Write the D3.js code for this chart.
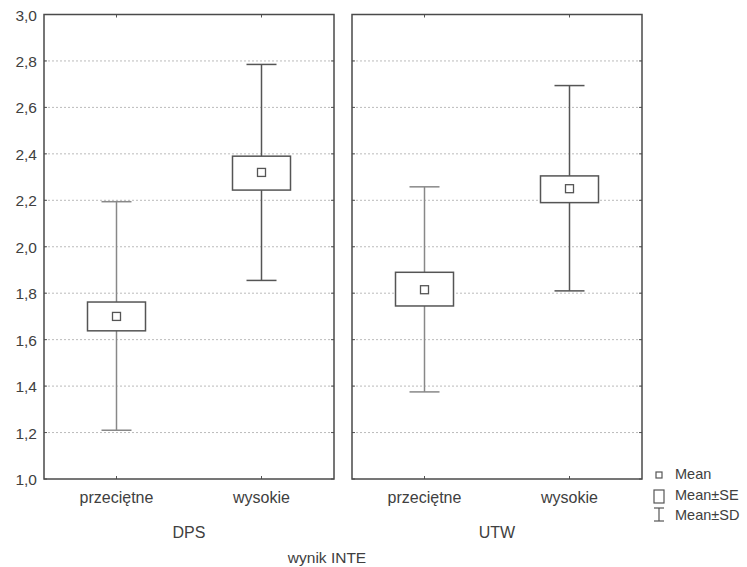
<!DOCTYPE html>
<html>
<head>
<meta charset="utf-8">
<script src="https://d3js.org/d3.v7.min.js"></script>
<style>
body{margin:0;background:#fff;}
text{font-family:"Liberation Sans",Arial,sans-serif;fill:#404040;}
</style>
</head>
<body>
<div id="chart"></div>
<script>
// dane
var panels = ["DPS", "UTW"];
var categories = ["przeciętne", "wysokie"];
var means  = [[1.70, 2.32], [1.815, 2.25]];
var seLow  = [[1.638, 2.244], [1.745, 2.19]];
var seHigh = [[1.762, 2.39], [1.89, 2.305]];
var sdLow  = [[1.21, 1.855], [1.375, 1.81]];
var sdHigh = [[2.194, 2.785], [2.258, 2.694]];
var yTicks = [1.0, 1.2, 1.4, 1.6, 1.8, 2.0, 2.2, 2.4, 2.6, 2.8, 3.0];
var legendLabels = ["Mean", "Mean±SE", "Mean±SD"];

var W = 747, H = 567;
var yTop = 14.5, yBottom = 479;
var panelX = [44, 352], panelW = 290;

var svg = d3.select("#chart").append("svg")
    .attr("width", W).attr("height", H);

var y = d3.scaleLinear().domain([1, 3]).range([yBottom, yTop]);
var fmt = function(d){ return d3.format(".1f")(d).replace(".", ","); };

// etykiety osi Y
svg.append("g")
    .selectAll("text").data(yTicks).enter().append("text")
    .attr("x", 37).attr("y", function(d){ return y(d) + 6; })
    .attr("text-anchor", "end")
    .style("font-size", "15.5px")
    .text(fmt);

panels.forEach(function(p, pi){
    var x = d3.scalePoint().domain(categories)
        .range([panelX[pi], panelX[pi] + panelW]).padding(0.5);
    var g = svg.append("g");

    // siatka
    g.selectAll(".grid").data(yTicks.slice(1, -1)).enter().append("line")
        .attr("x1", panelX[pi]).attr("x2", panelX[pi] + panelW)
        .attr("y1", function(d){ return y(d); }).attr("y2", function(d){ return y(d); })
        .attr("stroke", "#bbb").attr("stroke-width", 1)
        .attr("stroke-dasharray", "2,2");

    // ticki na ramce
    g.selectAll(".tl").data(yTicks).enter().append("line")
        .attr("x1", panelX[pi]).attr("x2", panelX[pi] + 3)
        .attr("y1", function(d){ return y(d); }).attr("y2", function(d){ return y(d); })
        .attr("stroke", "#555");
    g.selectAll(".tr").data(yTicks).enter().append("line")
        .attr("x1", panelX[pi] + panelW - 3).attr("x2", panelX[pi] + panelW)
        .attr("y1", function(d){ return y(d); }).attr("y2", function(d){ return y(d); })
        .attr("stroke", "#555");
    g.selectAll(".tb").data(categories).enter().append("line")
        .attr("x1", function(d){ return x(d); }).attr("x2", function(d){ return x(d); })
        .attr("y1", yBottom - 3).attr("y2", yBottom)
        .attr("stroke", "#555");
    g.selectAll(".tt").data(categories).enter().append("line")
        .attr("x1", function(d){ return x(d); }).attr("x2", function(d){ return x(d); })
        .attr("y1", yTop).attr("y2", yTop + 3)
        .attr("stroke", "#555");

    // ramka
    g.append("rect")
        .attr("x", panelX[pi]).attr("y", yTop)
        .attr("width", panelW).attr("height", yBottom - yTop)
        .attr("fill", "none").attr("stroke", "#4a4a4a").attr("stroke-width", 1.5);

    categories.forEach(function(c, ci){
        var cx = x(c);
        var col = (ci === 0) ? "#888" : "#555";
        // whisker SD
        g.append("line").attr("x1", cx).attr("x2", cx)
            .attr("y1", y(sdHigh[pi][ci])).attr("y2", y(sdLow[pi][ci]))
            .attr("stroke", col).attr("stroke-width", 1.5);
        [sdHigh[pi][ci], sdLow[pi][ci]].forEach(function(v){
            g.append("line").attr("x1", cx - 15).attr("x2", cx + 15)
                .attr("y1", y(v)).attr("y2", y(v))
                .attr("stroke", col).attr("stroke-width", 1.5);
        });
        // SE box
        g.append("rect")
            .attr("x", cx - 29).attr("width", 58)
            .attr("y", y(seHigh[pi][ci]))
            .attr("height", y(seLow[pi][ci]) - y(seHigh[pi][ci]))
            .attr("fill", "#fff").attr("stroke", "#555").attr("stroke-width", 1.5);
        // mean
        g.append("rect")
            .attr("x", cx - 4).attr("y", y(means[pi][ci]) - 4)
            .attr("width", 8).attr("height", 8)
            .attr("fill", "#fff").attr("stroke", "#555").attr("stroke-width", 1.3);
        // etykieta kategorii
        svg.append("text").attr("x", cx).attr("y", yBottom + 24)
            .attr("text-anchor", "middle").style("font-size", "16px")
            .text(c);
    });

    svg.append("text").attr("x", panelX[pi] + panelW / 2).attr("y", 538)
        .attr("text-anchor", "middle").style("font-size", "16px")
        .text(p);
});

svg.append("text").attr("x", 327).attr("y", 563)
    .attr("text-anchor", "middle").style("font-size", "15.5px")
    .text("wynik INTE");

// legenda
var lg = svg.append("g").attr("transform", "translate(659,0)");
lg.append("rect").attr("x", -3).attr("y", 472).attr("width", 6).attr("height", 6)
    .attr("fill", "#fff").attr("stroke", "#555").attr("stroke-width", 1.2);
lg.append("rect").attr("x", -5).attr("y", 490).attr("width", 10).attr("height", 13)
    .attr("fill", "#fff").attr("stroke", "#555").attr("stroke-width", 1.2);
lg.append("line").attr("x1", 0).attr("x2", 0).attr("y1", 508).attr("y2", 521)
    .attr("stroke", "#555").attr("stroke-width", 1.2);
lg.append("line").attr("x1", -5).attr("x2", 5).attr("y1", 508).attr("y2", 508)
    .attr("stroke", "#555").attr("stroke-width", 1.2);
lg.append("line").attr("x1", -5).attr("x2", 5).attr("y1", 521).attr("y2", 521)
    .attr("stroke", "#555").attr("stroke-width", 1.2);
lg.selectAll("text").data(legendLabels).enter().append("text")
    .attr("x", 16).attr("y", function(d, i){ return 479 + i * 20.5; })
    .style("font-size", "14.5px")
    .text(function(d){ return d; });
</script>
</body>
</html>
